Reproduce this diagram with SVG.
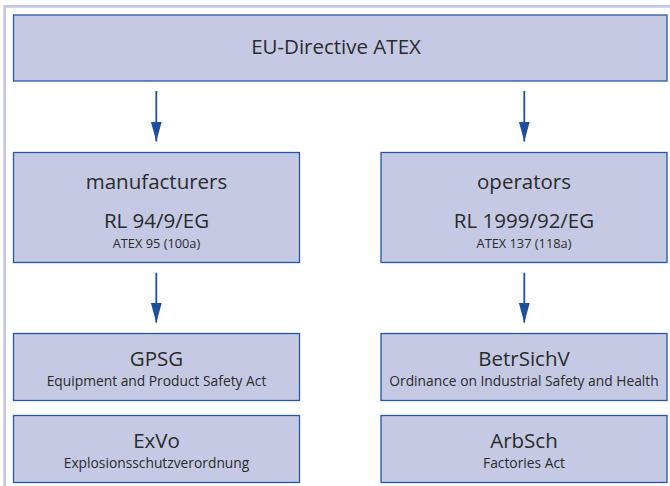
<svg xmlns="http://www.w3.org/2000/svg" width="670" height="486" viewBox="0 0 670 486">
<defs>
<style>
.frame{fill:none;stroke:#c3c6e2;stroke-width:2.7}
.box{fill:#c5c9e4;stroke:#2457a6;stroke-width:1.3}
.t{font-family:"Open Sans","Liberation Sans",sans-serif;fill:#2b2b2b;text-anchor:middle}
.big{font-size:20.5px}
.small{font-size:12.8px}
.sub{font-size:13.8px}
.conn{stroke:#1f4f9c;stroke-width:1.8;fill:none}
</style>
<marker id="ah" markerUnits="userSpaceOnUse" markerWidth="21" markerHeight="12" refX="20" refY="6" orient="auto" viewBox="0 0 21 12">
<path d="M0,0.5 L20,6 L0,11.5 Z" fill="#1f4f9c"/>
</marker>
</defs>
<path class="frame" d="M670,6.3 H4.7 V486"/>
<g id="eu-directive">
<rect class="box" x="13.5" y="15" width="653.5" height="66"/>
<text class="t big" x="336" y="54">EU-Directive ATEX</text>
</g>
<g id="manufacturers">
<rect class="box" x="13.5" y="152.5" width="286" height="110"/>
<text class="t big" x="156.5" y="189">manufacturers</text>
<text class="t big" x="156.5" y="227.5">RL 94/9/EG</text>
<text class="t small" x="156.5" y="247.5">ATEX 95 (100a)</text>
</g>
<g id="operators">
<rect class="box" x="381" y="152.5" width="286" height="110"/>
<text class="t big" x="524" y="189">operators</text>
<text class="t big" x="524" y="227.5">RL 1999/92/EG</text>
<text class="t small" x="524" y="247.5">ATEX 137 (118a)</text>
</g>
<g id="gpsg">
<rect class="box" x="13.5" y="333.5" width="286" height="67"/>
<text class="t big" x="156.5" y="365.5">GPSG</text>
<text class="t sub" x="156.5" y="385.5">Equipment and Product Safety Act</text>
</g>
<g id="exvo">
<rect class="box" x="13.5" y="415.5" width="286" height="67"/>
<text class="t big" x="156.5" y="448">ExVo</text>
<text class="t sub" x="156.5" y="468">Explosionsschutzverordnung</text>
</g>
<g id="betrsichv">
<rect class="box" x="381" y="333.5" width="286" height="67"/>
<text class="t big" x="524" y="365.5">BetrSichV</text>
<text class="t sub" x="524" y="385.5">Ordinance on Industrial Safety and Health</text>
</g>
<g id="arbsch">
<rect class="box" x="381" y="415.5" width="286" height="67"/>
<text class="t big" x="524" y="448">ArbSch</text>
<text class="t sub" x="524" y="468">Factories Act</text>
</g>
<g id="connectors">
<line class="conn" x1="156.3" y1="91" x2="156.3" y2="141.5" marker-end="url(#ah)"/>
<line class="conn" x1="524.3" y1="91" x2="524.3" y2="141.5" marker-end="url(#ah)"/>
<line class="conn" x1="156.3" y1="272.7" x2="156.3" y2="322.7" marker-end="url(#ah)"/>
<line class="conn" x1="524.3" y1="272.7" x2="524.3" y2="322.7" marker-end="url(#ah)"/>
</g>
</svg>
